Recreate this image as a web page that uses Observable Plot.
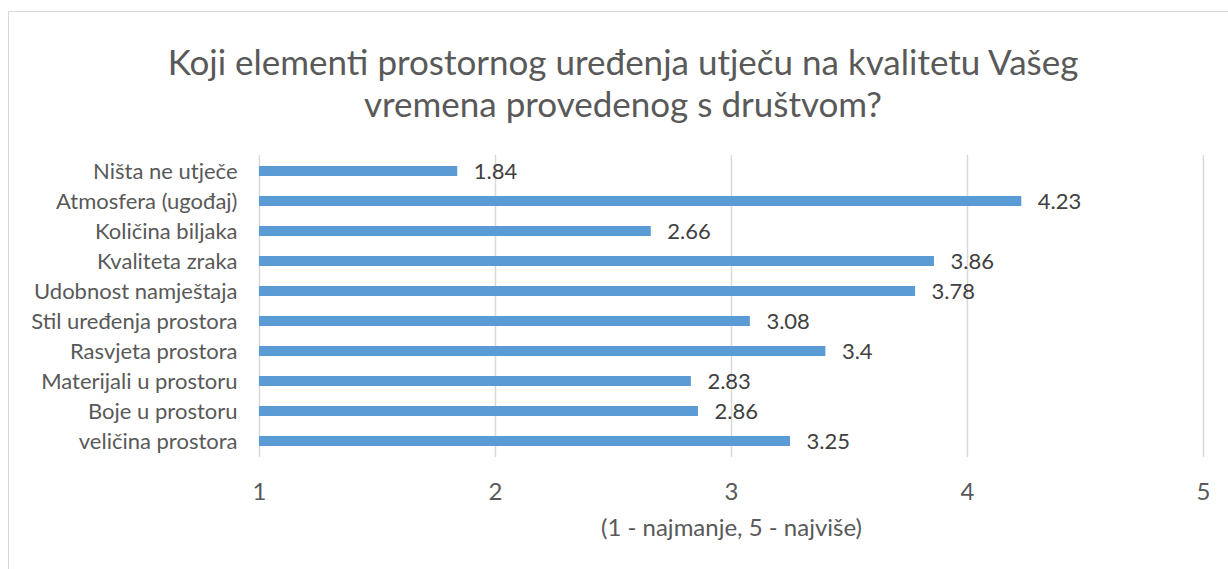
<!DOCTYPE html>
<html><head><meta charset="utf-8">
<script src="https://cdn.jsdelivr.net/npm/d3@7"></script>
<script src="https://cdn.jsdelivr.net/npm/@observablehq/plot@0.6"></script>
<style>
html,body{margin:0;padding:0;background:#fff;overflow:hidden;}
#frame{position:absolute;left:8px;top:11px;width:1240px;height:600px;border:1.5px solid #d9d9d9;box-sizing:border-box;}
#title{position:absolute;left:0;top:40px;width:1246px;text-align:center;font-family:Lato,sans-serif;font-size:35px;line-height:42px;color:#595959;}
#chart{position:absolute;left:0;top:140px;}
</style></head><body>
<div id="frame"></div>
<div id="title">Koji elementi prostornog uređenja utječu na kvalitetu Vašeg<br>vremena provedenog s društvom?</div>
<div id="chart"></div>
<script>
const categories = ["Ništa ne utječe","Atmosfera (ugođaj)","Količina biljaka","Kvaliteta zraka","Udobnost namještaja","Stil uređenja prostora","Rasvjeta prostora","Materijali u prostoru","Boje u prostoru","veličina prostora"];
const values = [1.84,4.23,2.66,3.86,3.78,3.08,3.4,2.83,2.86,3.25];
const xTicks = [1,2,3,4,5];
const axisTitle = "(1 - najmanje, 5 - najviše)";
const data = categories.map((c,i)=>({category:c,value:values[i]}));
const font = "Lato, sans-serif";
const chart = Plot.plot({
  width:1228, height:429,
  marginLeft:259, marginRight:25, marginTop:15, marginBottom:112,
  style:{fontFamily:font, fontSize:"22px", color:"#595959", background:"transparent"},
  x:{domain:[1,5], ticks:xTicks},
  y:{domain:categories, paddingInner:0.67, paddingOuter:0.335},
  marks:[
    Plot.ruleX(xTicks,{stroke:"#d9d9d9", strokeWidth:1.5}),
    Plot.barX(data,{y:"category", x1:1, x2:"value", fill:"#5b9bd5"}),
    Plot.text(data,{y:"category", x:"value", text:d=>String(d.value), dx:16, textAnchor:"start", fill:"#404040", fontSize:22}),
    Plot.axisY({tickSize:0, tickPadding:22, label:null, fill:"#595959", fontSize:22}),
    Plot.axisX({ticks:xTicks, tickSize:0, tickPadding:25, tickFormat:d=>String(d), label:axisTitle, labelAnchor:"center", labelArrow:"none", labelOffset:78, fill:"#595959", fontSize:24})
  ]
});
document.getElementById("chart").appendChild(chart);
</script>
</body></html>
